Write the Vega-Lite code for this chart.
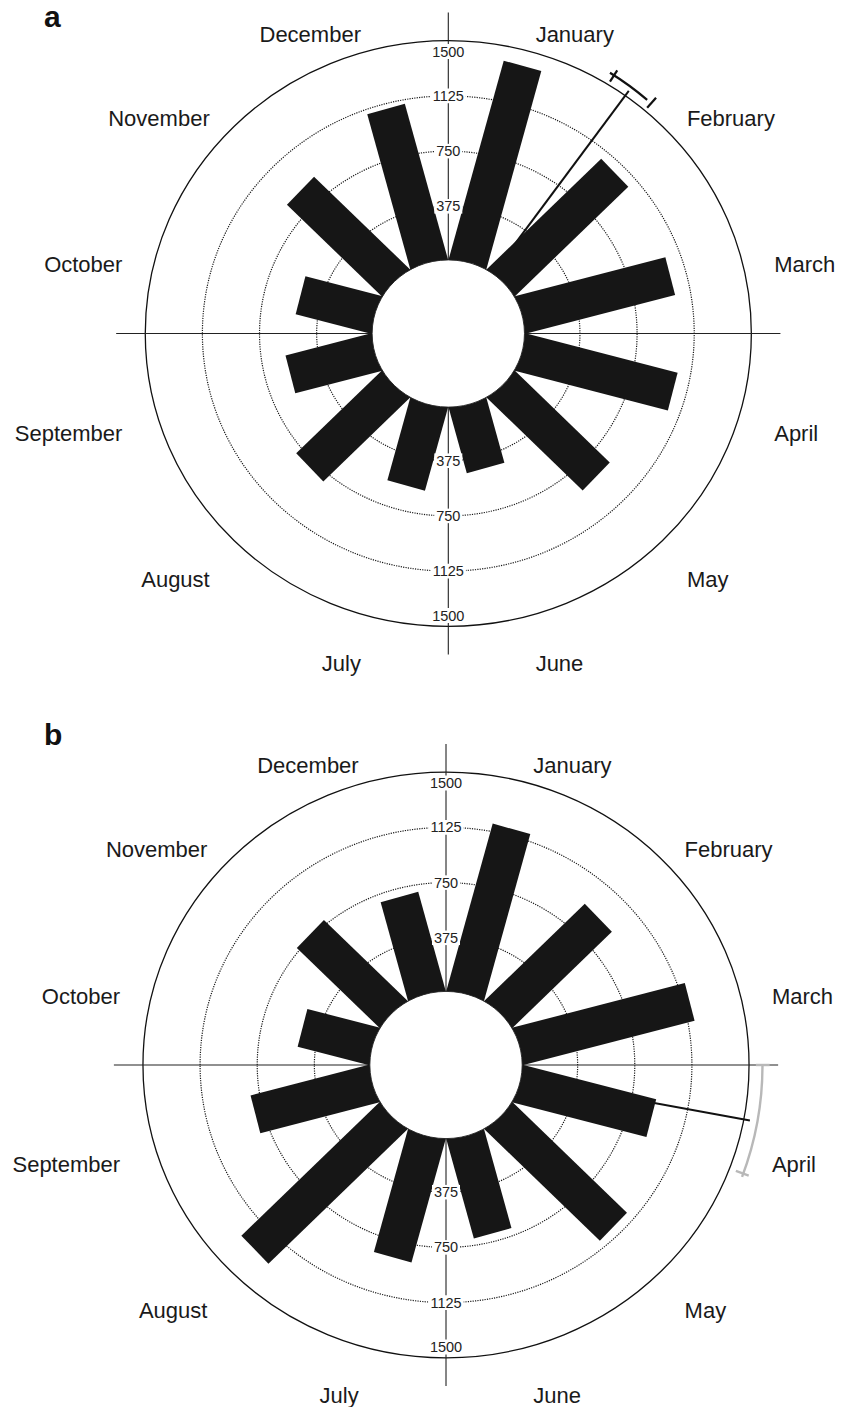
{
  "$schema": "https://vega.github.io/schema/vega-lite/v6.json",
  "padding": {"top": 3, "left": 0, "right": 0, "bottom": 0},
  "spacing": 0,
  "background": "white",
  "config": {"view": {"stroke": null}, "font": "Liberation Sans"},
  "datasets": {
    "bars": [
      {"panel": "a", "m": 1, "month": "January", "count": 1393},
      {"panel": "a", "m": 2, "month": "February", "count": 1056},
      {"panel": "a", "m": 3, "month": "March", "count": 1019},
      {"panel": "a", "m": 4, "month": "April", "count": 1036},
      {"panel": "a", "m": 5, "month": "May", "count": 884},
      {"panel": "a", "m": 6, "month": "June", "count": 457},
      {"panel": "a", "m": 7, "month": "July", "count": 580},
      {"panel": "a", "m": 8, "month": "August", "count": 797},
      {"panel": "a", "m": 9, "month": "September", "count": 584},
      {"panel": "a", "m": 10, "month": "October", "count": 515},
      {"panel": "a", "m": 11, "month": "November", "count": 883},
      {"panel": "a", "m": 12, "month": "December", "count": 1090},
      {"panel": "b", "m": 1, "month": "January", "count": 1172},
      {"panel": "b", "m": 2, "month": "February", "count": 925},
      {"panel": "b", "m": 3, "month": "March", "count": 1167},
      {"panel": "b", "m": 4, "month": "April", "count": 906},
      {"panel": "b", "m": 5, "month": "May", "count": 1065},
      {"panel": "b", "m": 6, "month": "June", "count": 694},
      {"panel": "b", "m": 7, "month": "July", "count": 863},
      {"panel": "b", "m": 8, "month": "August", "count": 1285},
      {"panel": "b", "m": 9, "month": "September", "count": 806},
      {"panel": "b", "m": 10, "month": "October", "count": 486},
      {"panel": "b", "m": 11, "month": "November", "count": 770},
      {"panel": "b", "m": 12, "month": "December", "count": 692}
    ],
    "rings": [{"ring": 375}, {"ring": 750}, {"ring": 1125}, {"ring": 1500}],
    "stats": [
      {"panel": "a", "mean": 35.7, "lo": 31.8, "hi": 40.4},
      {"panel": "b", "mean": 100.7, "lo": 90, "hi": 110.7}
    ]
  },
  "vconcat": [
    {
      "width": 841,
      "height": 700,
      "title": {"text": "a", "anchor": "start", "frame": "group", "orient": "top", "offset": -45, "dx": 44, "baseline": "alphabetic", "fontSize": 30, "fontWeight": "bold", "font": "Liberation Sans", "color": "#111111"},
      "layer": [
        {
          "data": {"name": "rings"},
          "transform": [{"filter": "datum.ring < 1500"}, {"calculate": "datum.ring + 489.1", "as": "u"}, {"calculate": "0", "as": "c"}],
          "mark": {"type": "point", "shape": "M-1,0A1,0.9662,0,1,1,1,0A1,0.9662,0,1,1,-1,0Z", "filled": false, "stroke": "#1a1a1a", "strokeWidth": 1.2, "strokeDash": [1.2, 1.2], "opacity": 1},
          "encoding": {
            "x": {"field": "c", "type": "quantitative", "scale": {"domain": [-2942.6, 2577.6], "nice": false, "zero": false}, "axis": null},
            "y": {"field": "c", "type": "quantitative", "scale": {"domain": [-2625.7, 2129.8], "nice": false, "zero": false}, "axis": null},
            "size": {"field": "u", "type": "quantitative", "scale": {"type": "pow", "exponent": 2, "domain": [0, 2000], "range": [0, 371368], "zero": true}, "legend": null}
          }
        },
        {
          "data": {"name": "rings"},
          "transform": [{"filter": "datum.ring == 1500"}, {"calculate": "datum.ring + 489.1", "as": "u"}, {"calculate": "0", "as": "c"}],
          "mark": {"type": "point", "shape": "M-1,0A1,0.9662,0,1,1,1,0A1,0.9662,0,1,1,-1,0Z", "filled": false, "stroke": "#111111", "strokeWidth": 1.3, "opacity": 1},
          "encoding": {
            "x": {"field": "c", "type": "quantitative", "scale": {"domain": [-2942.6, 2577.6], "nice": false, "zero": false}, "axis": null},
            "y": {"field": "c", "type": "quantitative", "scale": {"domain": [-2625.7, 2129.8], "nice": false, "zero": false}, "axis": null},
            "size": {"field": "u", "type": "quantitative", "scale": {"type": "pow", "exponent": 2, "domain": [0, 2000], "range": [0, 371368], "zero": true}, "legend": null}
          }
        },
        {
          "data": {"name": "stats"},
          "transform": [{"filter": "datum.panel == 'a'"}, {"calculate": "0", "as": "c"}, {"calculate": "-2180", "as": "e1"}, {"calculate": "2180", "as": "e2"}],
          "mark": {"type": "rule", "stroke": "#222222", "strokeWidth": 1.1},
          "encoding": {
            "x": {"field": "e1", "type": "quantitative", "scale": {"domain": [-2942.6, 2577.6], "nice": false, "zero": false}, "axis": null},
            "x2": {"field": "e2"},
            "y": {"field": "c", "type": "quantitative", "scale": {"domain": [-2625.7, 2129.8], "nice": false, "zero": false}, "axis": null}
          }
        },
        {
          "data": {"name": "stats"},
          "transform": [{"filter": "datum.panel == 'a'"}, {"calculate": "0", "as": "c"}, {"calculate": "-2180", "as": "e1"}, {"calculate": "2180", "as": "e2"}],
          "mark": {"type": "rule", "stroke": "#222222", "strokeWidth": 1.1},
          "encoding": {
            "y": {"field": "e1", "type": "quantitative", "scale": {"domain": [-2625.7, 2129.8], "nice": false, "zero": false}, "axis": null},
            "y2": {"field": "e2"},
            "x": {"field": "c", "type": "quantitative", "scale": {"domain": [-2942.6, 2577.6], "nice": false, "zero": false}, "axis": null}
          }
        },
        {
          "data": {"name": "stats"},
          "transform": [
            {"filter": "datum.panel == 'a'"},
            {"calculate": "0", "as": "c"},
            {"calculate": "2030 * sin(datum.mean * PI / 180)", "as": "mx"},
            {"calculate": "2030 * cos(datum.mean * PI / 180)", "as": "my"}
          ],
          "mark": {"type": "rule", "strokeWidth": 2, "color": "#111111"},
          "encoding": {
            "x": {"field": "c", "type": "quantitative", "scale": {"domain": [-2942.6, 2577.6], "nice": false, "zero": false}, "axis": null},
            "y": {"field": "c", "type": "quantitative", "scale": {"domain": [-2625.7, 2129.8], "nice": false, "zero": false}, "axis": null},
            "x2": {"field": "mx"},
            "y2": {"field": "my"}
          }
        },
        {
          "data": {"name": "bars"},
          "transform": [
            {"filter": "datum.panel == 'a'"},
            {"calculate": "0", "as": "c"},
            {"calculate": "(datum.m - 0.5) * PI / 6", "as": "ang"},
            {"calculate": "(datum.count + 489.1) * sin(datum.ang)", "as": "bx"},
            {"calculate": "(datum.count + 489.1) * cos(datum.ang)", "as": "by"}
          ],
          "mark": {"type": "rule", "strokeWidth": 39, "strokeCap": "butt", "color": "#161616"},
          "encoding": {
            "x": {"field": "c", "type": "quantitative", "scale": {"domain": [-2942.6, 2577.6], "nice": false, "zero": false}, "axis": null},
            "y": {"field": "c", "type": "quantitative", "scale": {"domain": [-2625.7, 2129.8], "nice": false, "zero": false}, "axis": null},
            "x2": {"field": "bx"},
            "y2": {"field": "by"}
          }
        },
        {
          "data": {"name": "stats"},
          "transform": [{"filter": "datum.panel == 'a'"}, {"calculate": "0", "as": "c"}, {"calculate": "500", "as": "hs"}],
          "mark": {"type": "point", "shape": "M-1,0A1,0.9662,0,1,1,1,0A1,0.9662,0,1,1,-1,0Z", "filled": true, "fill": "white", "stroke": "#222222", "strokeWidth": 0.9, "opacity": 1},
          "encoding": {
            "x": {"field": "c", "type": "quantitative", "scale": {"domain": [-2942.6, 2577.6], "nice": false, "zero": false}, "axis": null},
            "y": {"field": "c", "type": "quantitative", "scale": {"domain": [-2625.7, 2129.8], "nice": false, "zero": false}, "axis": null},
            "size": {"field": "hs", "type": "quantitative", "scale": {"type": "pow", "exponent": 2, "domain": [0, 2000], "range": [0, 371368], "zero": true}, "legend": null}
          }
        },
        {
          "data": {"name": "stats"},
          "transform": [{"filter": "datum.panel == 'a'"}, {"calculate": "0", "as": "c"}],
          "mark": {"type": "arc", "radius": 306.8, "radius2": 306.8, "filled": false, "stroke": "#111111", "strokeWidth": 2.2},
          "encoding": {
            "x": {"field": "c", "type": "quantitative", "scale": {"domain": [-2942.6, 2577.6], "nice": false, "zero": false}, "axis": null},
            "y": {"field": "c", "type": "quantitative", "scale": {"domain": [-2625.7, 2129.8], "nice": false, "zero": false}, "axis": null},
            "theta": {"field": "lo", "type": "quantitative", "stack": null, "scale": {"domain": [0, 360], "range": [0, 6.283185]}},
            "theta2": {"field": "hi"}
          }
        },
        {
          "data": {"name": "stats"},
          "transform": [
            {"filter": "datum.panel == 'a'"},
            {"fold": ["lo", "hi"], "as": ["end", "ea"]},
            {"calculate": "2014 * sin(datum.ea * PI / 180)", "as": "t1x"},
            {"calculate": "2014 * cos(datum.ea * PI / 180)", "as": "t1y"},
            {"calculate": "2104 * sin(datum.ea * PI / 180)", "as": "t2x"},
            {"calculate": "2104 * cos(datum.ea * PI / 180)", "as": "t2y"}
          ],
          "mark": {"type": "rule", "strokeWidth": 2.2, "color": "#111111"},
          "encoding": {
            "x": {"field": "t1x", "type": "quantitative", "scale": {"domain": [-2942.6, 2577.6], "nice": false, "zero": false}, "axis": null},
            "y": {"field": "t1y", "type": "quantitative", "scale": {"domain": [-2625.7, 2129.8], "nice": false, "zero": false}, "axis": null},
            "x2": {"field": "t2x"},
            "y2": {"field": "t2y"}
          }
        },
        {
          "data": {"name": "rings"},
          "transform": [
            {"calculate": "0", "as": "c"},
            {"calculate": "datum.ring < 1500 ? datum.ring + 489.1 : 1915.8", "as": "top"},
            {"calculate": "-datum.top", "as": "bot"},
            {"fold": ["top", "bot"], "as": ["side", "ly"]}
          ],
          "mark": {"type": "point", "filled": true, "fill": "white", "strokeWidth": 0, "opacity": 1},
          "encoding": {
            "x": {"field": "c", "type": "quantitative", "scale": {"domain": [-2942.6, 2577.6], "nice": false, "zero": false}, "axis": null},
            "y": {"field": "ly", "type": "quantitative", "scale": {"domain": [-2625.7, 2129.8], "nice": false, "zero": false}, "axis": null},
            "shape": {"condition": {"test": "datum.ring < 1000", "value": "M-1,-0.52H1V0.52H-1Z"}, "value": "M-1,-0.42H1V0.42H-1Z"},
            "size": {"condition": {"test": "datum.ring < 1000", "value": 784}, "value": 1239}
          }
        },
        {
          "data": {"name": "rings"},
          "transform": [
            {"calculate": "0", "as": "c"},
            {"calculate": "datum.ring < 1500 ? datum.ring + 489.1 : 1915.8", "as": "top"},
            {"calculate": "-datum.top", "as": "bot"},
            {"fold": ["top", "bot"], "as": ["side", "ly"]}
          ],
          "mark": {"type": "text", "fontSize": 14.5, "font": "Liberation Sans", "color": "#222222", "baseline": "middle", "align": "center", "dy": 1},
          "encoding": {
            "x": {"field": "c", "type": "quantitative", "scale": {"domain": [-2942.6, 2577.6], "nice": false, "zero": false}, "axis": null},
            "y": {"field": "ly", "type": "quantitative", "scale": {"domain": [-2625.7, 2129.8], "nice": false, "zero": false}, "axis": null},
            "text": {"field": "ring", "type": "quantitative", "format": "d"}
          }
        },
        {
          "data": {"name": "bars"},
          "transform": [
            {"filter": "datum.panel == 'a' && datum.m <= 6"},
            {"calculate": "(datum.m - 0.5) * PI / 6", "as": "ang"},
            {"calculate": "2214.7 * sin(datum.ang)", "as": "lx"},
            {"calculate": "2214.7 * cos(datum.ang) - 108", "as": "ly"}
          ],
          "mark": {"type": "text", "align": "left", "baseline": "middle", "fontSize": 22, "font": "Liberation Sans", "color": "#1a1a1a"},
          "encoding": {
            "x": {"field": "lx", "type": "quantitative", "scale": {"domain": [-2942.6, 2577.6], "nice": false, "zero": false}, "axis": null},
            "y": {"field": "ly", "type": "quantitative", "scale": {"domain": [-2625.7, 2129.8], "nice": false, "zero": false}, "axis": null},
            "text": {"field": "month", "type": "nominal"}
          }
        },
        {
          "data": {"name": "bars"},
          "transform": [
            {"filter": "datum.panel == 'a' && datum.m > 6"},
            {"calculate": "(datum.m - 0.5) * PI / 6", "as": "ang"},
            {"calculate": "2214.7 * sin(datum.ang)", "as": "lx"},
            {"calculate": "2214.7 * cos(datum.ang) - 108", "as": "ly"}
          ],
          "mark": {"type": "text", "align": "right", "baseline": "middle", "fontSize": 22, "font": "Liberation Sans", "color": "#1a1a1a"},
          "encoding": {
            "x": {"field": "lx", "type": "quantitative", "scale": {"domain": [-2942.6, 2577.6], "nice": false, "zero": false}, "axis": null},
            "y": {"field": "ly", "type": "quantitative", "scale": {"domain": [-2625.7, 2129.8], "nice": false, "zero": false}, "axis": null},
            "text": {"field": "month", "type": "nominal"}
          }
        }
      ]
    },
    {
      "width": 841,
      "height": 675,
      "title": {"text": "b", "anchor": "start", "frame": "group", "orient": "top", "offset": -40.5, "dx": 44, "baseline": "alphabetic", "fontSize": 30, "fontWeight": "bold", "font": "Liberation Sans", "color": "#111111"},
      "layer": [
        {
          "data": {"name": "rings"},
          "transform": [{"filter": "datum.ring < 1500"}, {"calculate": "datum.ring + 489.1", "as": "u"}, {"calculate": "0", "as": "c"}],
          "mark": {"type": "point", "shape": "M-1,0A1,0.9662,0,1,1,1,0A1,0.9662,0,1,1,-1,0Z", "filled": false, "stroke": "#1a1a1a", "strokeWidth": 1.2, "strokeDash": [1.2, 1.2], "opacity": 1},
          "encoding": {
            "x": {"field": "c", "type": "quantitative", "scale": {"domain": [-2927.5, 2592.7], "nice": false, "zero": false}, "axis": null},
            "y": {"field": "c", "type": "quantitative", "scale": {"domain": [-2337, 2248.6], "nice": false, "zero": false}, "axis": null},
            "size": {"field": "u", "type": "quantitative", "scale": {"type": "pow", "exponent": 2, "domain": [0, 2000], "range": [0, 371368], "zero": true}, "legend": null}
          }
        },
        {
          "data": {"name": "rings"},
          "transform": [{"filter": "datum.ring == 1500"}, {"calculate": "datum.ring + 489.1", "as": "u"}, {"calculate": "0", "as": "c"}],
          "mark": {"type": "point", "shape": "M-1,0A1,0.9662,0,1,1,1,0A1,0.9662,0,1,1,-1,0Z", "filled": false, "stroke": "#111111", "strokeWidth": 1.3, "opacity": 1},
          "encoding": {
            "x": {"field": "c", "type": "quantitative", "scale": {"domain": [-2927.5, 2592.7], "nice": false, "zero": false}, "axis": null},
            "y": {"field": "c", "type": "quantitative", "scale": {"domain": [-2337, 2248.6], "nice": false, "zero": false}, "axis": null},
            "size": {"field": "u", "type": "quantitative", "scale": {"type": "pow", "exponent": 2, "domain": [0, 2000], "range": [0, 371368], "zero": true}, "legend": null}
          }
        },
        {
          "data": {"name": "stats"},
          "transform": [{"filter": "datum.panel == 'b'"}, {"calculate": "0", "as": "c"}, {"calculate": "-2180", "as": "e1"}, {"calculate": "2180", "as": "e2"}],
          "mark": {"type": "rule", "stroke": "#222222", "strokeWidth": 1.1},
          "encoding": {
            "x": {"field": "e1", "type": "quantitative", "scale": {"domain": [-2927.5, 2592.7], "nice": false, "zero": false}, "axis": null},
            "x2": {"field": "e2"},
            "y": {"field": "c", "type": "quantitative", "scale": {"domain": [-2337, 2248.6], "nice": false, "zero": false}, "axis": null}
          }
        },
        {
          "data": {"name": "stats"},
          "transform": [{"filter": "datum.panel == 'b'"}, {"calculate": "0", "as": "c"}, {"calculate": "-2180", "as": "e1"}, {"calculate": "2180", "as": "e2"}],
          "mark": {"type": "rule", "stroke": "#222222", "strokeWidth": 1.1},
          "encoding": {
            "y": {"field": "e1", "type": "quantitative", "scale": {"domain": [-2337, 2248.6], "nice": false, "zero": false}, "axis": null},
            "y2": {"field": "e2"},
            "x": {"field": "c", "type": "quantitative", "scale": {"domain": [-2927.5, 2592.7], "nice": false, "zero": false}, "axis": null}
          }
        },
        {
          "data": {"name": "stats"},
          "transform": [
            {"filter": "datum.panel == 'b'"},
            {"calculate": "0", "as": "c"},
            {"calculate": "2030 * sin(datum.mean * PI / 180)", "as": "mx"},
            {"calculate": "2030 * cos(datum.mean * PI / 180)", "as": "my"}
          ],
          "mark": {"type": "rule", "strokeWidth": 2, "color": "#111111"},
          "encoding": {
            "x": {"field": "c", "type": "quantitative", "scale": {"domain": [-2927.5, 2592.7], "nice": false, "zero": false}, "axis": null},
            "y": {"field": "c", "type": "quantitative", "scale": {"domain": [-2337, 2248.6], "nice": false, "zero": false}, "axis": null},
            "x2": {"field": "mx"},
            "y2": {"field": "my"}
          }
        },
        {
          "data": {"name": "bars"},
          "transform": [
            {"filter": "datum.panel == 'b'"},
            {"calculate": "0", "as": "c"},
            {"calculate": "(datum.m - 0.5) * PI / 6", "as": "ang"},
            {"calculate": "(datum.count + 489.1) * sin(datum.ang)", "as": "bx"},
            {"calculate": "(datum.count + 489.1) * cos(datum.ang)", "as": "by"}
          ],
          "mark": {"type": "rule", "strokeWidth": 39, "strokeCap": "butt", "color": "#161616"},
          "encoding": {
            "x": {"field": "c", "type": "quantitative", "scale": {"domain": [-2927.5, 2592.7], "nice": false, "zero": false}, "axis": null},
            "y": {"field": "c", "type": "quantitative", "scale": {"domain": [-2337, 2248.6], "nice": false, "zero": false}, "axis": null},
            "x2": {"field": "bx"},
            "y2": {"field": "by"}
          }
        },
        {
          "data": {"name": "stats"},
          "transform": [{"filter": "datum.panel == 'b'"}, {"calculate": "0", "as": "c"}, {"calculate": "500", "as": "hs"}],
          "mark": {"type": "point", "shape": "M-1,0A1,0.9662,0,1,1,1,0A1,0.9662,0,1,1,-1,0Z", "filled": true, "fill": "white", "stroke": "#222222", "strokeWidth": 0.9, "opacity": 1},
          "encoding": {
            "x": {"field": "c", "type": "quantitative", "scale": {"domain": [-2927.5, 2592.7], "nice": false, "zero": false}, "axis": null},
            "y": {"field": "c", "type": "quantitative", "scale": {"domain": [-2337, 2248.6], "nice": false, "zero": false}, "axis": null},
            "size": {"field": "hs", "type": "quantitative", "scale": {"type": "pow", "exponent": 2, "domain": [0, 2000], "range": [0, 371368], "zero": true}, "legend": null}
          }
        },
        {
          "data": {"name": "stats"},
          "transform": [{"filter": "datum.panel == 'b'"}, {"calculate": "0", "as": "c"}],
          "mark": {"type": "arc", "radius": 316.5, "radius2": 316.5, "filled": false, "stroke": "#b8b8b8", "strokeWidth": 2.4},
          "encoding": {
            "x": {"field": "c", "type": "quantitative", "scale": {"domain": [-2927.5, 2592.7], "nice": false, "zero": false}, "axis": null},
            "y": {"field": "c", "type": "quantitative", "scale": {"domain": [-2337, 2248.6], "nice": false, "zero": false}, "axis": null},
            "theta": {"field": "lo", "type": "quantitative", "stack": null, "scale": {"domain": [0, 360], "range": [0, 6.283185]}},
            "theta2": {"field": "hi"}
          }
        },
        {
          "data": {"name": "stats"},
          "transform": [
            {"filter": "datum.panel == 'b'"},
            {"fold": ["lo", "hi"], "as": ["end", "ea"]},
            {"calculate": "2034 * sin(datum.ea * PI / 180)", "as": "t1x"},
            {"calculate": "2034 * cos(datum.ea * PI / 180)", "as": "t1y"},
            {"calculate": "2124 * sin(datum.ea * PI / 180)", "as": "t2x"},
            {"calculate": "2124 * cos(datum.ea * PI / 180)", "as": "t2y"}
          ],
          "mark": {"type": "rule", "strokeWidth": 2.4, "color": "#b8b8b8"},
          "encoding": {
            "x": {"field": "t1x", "type": "quantitative", "scale": {"domain": [-2927.5, 2592.7], "nice": false, "zero": false}, "axis": null},
            "y": {"field": "t1y", "type": "quantitative", "scale": {"domain": [-2337, 2248.6], "nice": false, "zero": false}, "axis": null},
            "x2": {"field": "t2x"},
            "y2": {"field": "t2y"}
          }
        },
        {
          "data": {"name": "rings"},
          "transform": [
            {"calculate": "0", "as": "c"},
            {"calculate": "datum.ring < 1500 ? datum.ring + 489.1 : 1915.8", "as": "top"},
            {"calculate": "-datum.top", "as": "bot"},
            {"fold": ["top", "bot"], "as": ["side", "ly"]}
          ],
          "mark": {"type": "point", "filled": true, "fill": "white", "strokeWidth": 0, "opacity": 1},
          "encoding": {
            "x": {"field": "c", "type": "quantitative", "scale": {"domain": [-2927.5, 2592.7], "nice": false, "zero": false}, "axis": null},
            "y": {"field": "ly", "type": "quantitative", "scale": {"domain": [-2337, 2248.6], "nice": false, "zero": false}, "axis": null},
            "shape": {"condition": {"test": "datum.ring < 1000", "value": "M-1,-0.52H1V0.52H-1Z"}, "value": "M-1,-0.42H1V0.42H-1Z"},
            "size": {"condition": {"test": "datum.ring < 1000", "value": 784}, "value": 1239}
          }
        },
        {
          "data": {"name": "rings"},
          "transform": [
            {"calculate": "0", "as": "c"},
            {"calculate": "datum.ring < 1500 ? datum.ring + 489.1 : 1915.8", "as": "top"},
            {"calculate": "-datum.top", "as": "bot"},
            {"fold": ["top", "bot"], "as": ["side", "ly"]}
          ],
          "mark": {"type": "text", "fontSize": 14.5, "font": "Liberation Sans", "color": "#222222", "baseline": "middle", "align": "center", "dy": 1},
          "encoding": {
            "x": {"field": "c", "type": "quantitative", "scale": {"domain": [-2927.5, 2592.7], "nice": false, "zero": false}, "axis": null},
            "y": {"field": "ly", "type": "quantitative", "scale": {"domain": [-2337, 2248.6], "nice": false, "zero": false}, "axis": null},
            "text": {"field": "ring", "type": "quantitative", "format": "d"}
          }
        },
        {
          "data": {"name": "bars"},
          "transform": [
            {"filter": "datum.panel == 'b' && datum.m <= 6"},
            {"calculate": "(datum.m - 0.5) * PI / 6", "as": "ang"},
            {"calculate": "2214.7 * sin(datum.ang)", "as": "lx"},
            {"calculate": "2214.7 * cos(datum.ang) - 108", "as": "ly"}
          ],
          "mark": {"type": "text", "align": "left", "baseline": "middle", "fontSize": 22, "font": "Liberation Sans", "color": "#1a1a1a"},
          "encoding": {
            "x": {"field": "lx", "type": "quantitative", "scale": {"domain": [-2927.5, 2592.7], "nice": false, "zero": false}, "axis": null},
            "y": {"field": "ly", "type": "quantitative", "scale": {"domain": [-2337, 2248.6], "nice": false, "zero": false}, "axis": null},
            "text": {"field": "month", "type": "nominal"}
          }
        },
        {
          "data": {"name": "bars"},
          "transform": [
            {"filter": "datum.panel == 'b' && datum.m > 6"},
            {"calculate": "(datum.m - 0.5) * PI / 6", "as": "ang"},
            {"calculate": "2214.7 * sin(datum.ang)", "as": "lx"},
            {"calculate": "2214.7 * cos(datum.ang) - 108", "as": "ly"}
          ],
          "mark": {"type": "text", "align": "right", "baseline": "middle", "fontSize": 22, "font": "Liberation Sans", "color": "#1a1a1a"},
          "encoding": {
            "x": {"field": "lx", "type": "quantitative", "scale": {"domain": [-2927.5, 2592.7], "nice": false, "zero": false}, "axis": null},
            "y": {"field": "ly", "type": "quantitative", "scale": {"domain": [-2337, 2248.6], "nice": false, "zero": false}, "axis": null},
            "text": {"field": "month", "type": "nominal"}
          }
        }
      ]
    }
  ]
}
